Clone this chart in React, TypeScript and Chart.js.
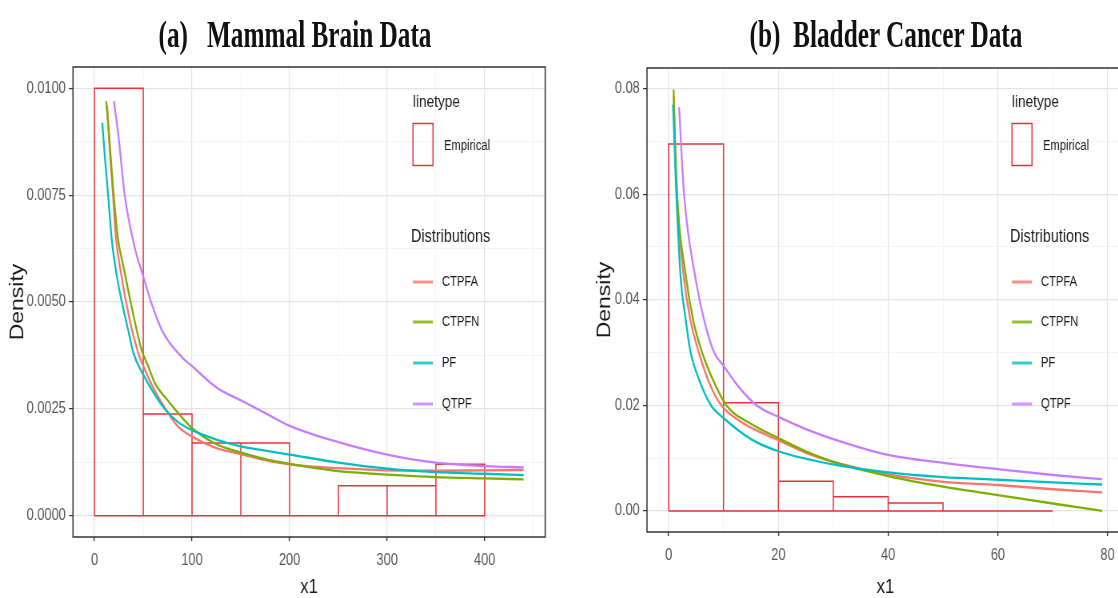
import React, { useEffect, useRef } from 'react';
import { Chart, registerables } from 'chart.js';

Chart.register(...registerables);

// ---------- shared ----------
const SERIES_NAMES = ['CTPFA', 'CTPFN', 'PF', 'QTPF'];
const SERIES_COLORS = ['#F8766D', '#7CAE00', '#00BFC4', '#C77CFF'];
const HIST_COLOR = '#E8323C';
const SANS = "'Liberation Sans', Arial, sans-serif";
// the panels are drawn wide and squeezed horizontally, like the reference image
const SQUEEZE = 0.8;

// ---------- (a) Mammal Brain Data ----------
const brainBinEdges = [0, 50, 100, 150, 200, 250, 300, 350, 400];
const brainBinDensity = [0.01, 0.00238, 0.0017, 0.0017, 0, 0.0007, 0.0007, 0.0012];

const brainCtpfaX = [13, 15, 19, 22, 27, 36, 45, 52, 60, 70, 85, 100, 125, 150, 175, 200, 250, 300, 350, 400, 440];
const brainCtpfaY = [0.0096, 0.0088, 0.0075, 0.0065, 0.0057, 0.0046, 0.0038, 0.0034, 0.003, 0.0026, 0.0021, 0.00185, 0.00158, 0.00144, 0.0013, 0.0012, 0.00111, 0.00106, 0.00105, 0.00106, 0.00107];

const brainCtpfnX = [12, 15, 19, 24, 30, 38, 48, 55, 62, 75, 84, 100, 125, 150, 175, 200, 250, 300, 350, 400, 440];
const brainCtpfnY = [0.0097, 0.0089, 0.0077, 0.0065, 0.0058, 0.0049, 0.0039, 0.0035, 0.0031, 0.0027, 0.00245, 0.00205, 0.00167, 0.00148, 0.00132, 0.00121, 0.00104, 0.00096, 0.0009, 0.00087, 0.00085];

const brainPfX = [8, 11, 14, 18, 23, 29, 35, 40, 50, 60, 72, 85, 100, 125, 150, 175, 200, 250, 300, 350, 400, 440];
const brainPfY = [0.0092, 0.0083, 0.0075, 0.0064, 0.0056, 0.0049, 0.0043, 0.0038, 0.0033, 0.0029, 0.0025, 0.0022, 0.002, 0.00178, 0.00162, 0.00152, 0.00143, 0.00124, 0.0011, 0.00102, 0.00098, 0.00095];

const brainQtpfX = [20, 25, 31, 41, 50, 58, 70, 90, 100, 125, 150, 175, 200, 250, 300, 350, 400, 440];
const brainQtpfY = [0.0097, 0.0088, 0.0075, 0.0063, 0.0056, 0.005, 0.0043, 0.0037, 0.0035, 0.003, 0.0027, 0.0024, 0.0021, 0.00172, 0.00143, 0.00124, 0.00116, 0.00113];

const brainXMajor = [0, 100, 200, 300, 400];
const brainXMinor = [50, 150, 250, 350, 450];
const brainYMajor = [0, 0.0025, 0.005, 0.0075, 0.01];
const brainYMinor = [0.00125, 0.00375, 0.00625, 0.00875];

// ---------- (b) Bladder Cancer Data ----------
const bladderBinEdges = [0, 10, 20, 30, 40, 50, 60, 70];
const bladderBinDensity = [0.0695, 0.0205, 0.0056, 0.0027, 0.0015, 0, 0];

const bladderCtpfaX = [0.9, 1.4, 2.8, 4, 5.5, 7.5, 9.6, 13, 18, 20, 25, 30, 40, 50, 60, 70, 79];
const bladderCtpfaY = [0.0785, 0.062, 0.044, 0.036, 0.03, 0.024, 0.02, 0.017, 0.0143, 0.0134, 0.011, 0.0093, 0.0069, 0.0055, 0.0049, 0.0041, 0.0035];

const bladderCtpfnX = [0.9, 1.4, 3.2, 4.5, 6.1, 8, 10.5, 15, 20, 25, 30, 40, 50, 60, 70, 79];
const bladderCtpfnY = [0.0798, 0.063, 0.044, 0.036, 0.03, 0.025, 0.02, 0.0165, 0.0138, 0.0113, 0.0093, 0.0066, 0.0046, 0.003, 0.0014, 0.0];

const bladderPfX = [0.8, 1.4, 2.2, 3, 4, 5.5, 7.7, 10, 15, 20, 30, 40, 50, 60, 70, 79];
const bladderPfY = [0.077, 0.06, 0.044, 0.037, 0.03, 0.025, 0.02, 0.0176, 0.0136, 0.0113, 0.0088, 0.0073, 0.0064, 0.0059, 0.0054, 0.005];

const bladderQtpfX = [1.9, 2.8, 4.9, 6.5, 8.3, 10, 13, 16, 20, 25, 30, 40, 50, 60, 70, 79];
const bladderQtpfY = [0.0765, 0.06, 0.044, 0.036, 0.03, 0.0275, 0.0232, 0.02, 0.0178, 0.0155, 0.0136, 0.0106, 0.0091, 0.0079, 0.0068, 0.006];

const bladderXMajor = [0, 20, 40, 60, 80];
const bladderXMinor = [10, 30, 50, 70];
const bladderYMajor = [0, 0.02, 0.04, 0.06, 0.08];
const bladderYMinor = [0.01, 0.03, 0.05, 0.07];

// ---------- helpers ----------
function pts(xs: number[], ys: number[]) {
  return xs.map((x, i) => ({ x, y: ys[i] }));
}

function histOutline(edges: number[], heights: number[]) {
  const out: { x: number; y: number }[] = [];
  heights.forEach((h, i) => {
    out.push({ x: edges[i], y: 0 }, { x: edges[i], y: h }, { x: edges[i + 1], y: h }, { x: edges[i + 1], y: 0 });
  });
  out.push({ x: edges[0], y: 0 });
  return out;
}

const near = (list: number[], v: number) => list.some((m) => Math.abs(m - v) < 1e-9);

type PanelProps = {
  left: number; // display px
  width: number; // display px
  padTop: number;
  padRight: number; // display px
  yWidth: number; // display px
  xHeight: number;
  densityX: number; // display px, centre of the y title
  legendOffset: number; // display px from plot left
  xMin: number;
  xMax: number;
  yMin: number;
  yMax: number;
  xMajor: number[];
  xMinor: number[];
  yMajor: number[];
  yMinor: number[];
  yDecimals: number;
  edges: number[];
  heights: number[];
  series: { x: number[]; y: number[] }[];
};

function Panel(p: PanelProps) {
  const ref = useRef<HTMLCanvasElement | null>(null);
  const S = SQUEEZE;
  const innerWidth = Math.round(p.width / S);

  useEffect(() => {
    if (!ref.current) return;

    const frame = {
      id: 'ggFrame',
      afterDraw(chart: any) {
        const { ctx, chartArea: a } = chart;
        ctx.save();
        ctx.strokeStyle = '#333333';
        ctx.lineWidth = 1.5;
        ctx.strokeRect(a.left, a.top, a.right - a.left, a.bottom - a.top);
        ctx.restore();
      },
    };

    const legend = {
      id: 'ggLegend',
      afterDraw(chart: any) {
        const { ctx, chartArea: a } = chart;
        const x0 = a.left + p.legendOffset / S;
        const u = 1 / S;
        ctx.save();
        ctx.textBaseline = 'middle';
        ctx.textAlign = 'left';
        ctx.fillStyle = '#1a1a1a';
        ctx.font = `17px ${SANS}`;
        ctx.fillText('linetype', x0, 102);
        ctx.strokeStyle = HIST_COLOR;
        ctx.lineWidth = 1.5;
        ctx.strokeRect(x0, 123.5, 20 * u, 42);
        ctx.font = `14px ${SANS}`;
        ctx.fillText('Empirical', x0 + 31 * u, 146);
        ctx.font = `18px ${SANS}`;
        ctx.fillText('Distributions', x0 - 2 * u, 237);
        const ys = [282, 322, 363, 404];
        SERIES_NAMES.forEach((name, i) => {
          ctx.globalAlpha = 0.8;
          ctx.strokeStyle = SERIES_COLORS[i];
          ctx.lineWidth = 3;
          ctx.beginPath();
          ctx.moveTo(x0, ys[i]);
          ctx.lineTo(x0 + 20 * u, ys[i]);
          ctx.stroke();
          ctx.globalAlpha = 1;
          ctx.fillStyle = '#1a1a1a';
          ctx.font = `14px ${SANS}`;
          ctx.fillText(name, x0 + 29 * u, ys[i]);
        });
        ctx.restore();
      },
    };

    const orders = [4, 3, 2, 1];
    const curveSets = p.series.map((s, i) => ({
      label: SERIES_NAMES[i],
      data: pts(s.x, s.y),
      showLine: true,
      borderColor: SERIES_COLORS[i],
      borderWidth: 2.3,
      pointRadius: 0,
      cubicInterpolationMode: 'monotone' as const,
      order: orders[i],
    }));

    const histSet = {
      label: 'Empirical',
      data: histOutline(p.edges, p.heights),
      showLine: true,
      borderColor: HIST_COLOR,
      borderWidth: 1.5,
      pointRadius: 0,
      tension: 0,
      order: 5,
    };

    const gridColor = (major: number[]) => (ctx: any) =>
      ctx.tick && near(major, ctx.tick.value) ? '#E4E4E4' : '#F1F1F1';
    const gridWidth = (major: number[]) => (ctx: any) => (ctx.tick && near(major, ctx.tick.value) ? 1.2 : 0.8);
    const tickColor = (major: number[]) => (ctx: any) =>
      ctx.tick && near(major, ctx.tick.value) ? '#333333' : 'rgba(0,0,0,0)';

    const chart = new Chart(ref.current, {
      type: 'scatter',
      data: { datasets: [...curveSets, histSet] as any },
      plugins: [frame, legend],
      options: {
        responsive: false,
        animation: false,
        events: [],
        layout: { padding: { top: p.padTop, right: p.padRight / S, left: 0, bottom: 0 } },
        plugins: { legend: { display: false }, tooltip: { enabled: false } },
        scales: {
          x: {
            type: 'linear',
            min: p.xMin,
            max: p.xMax,
            afterBuildTicks: (s: any) => {
              s.ticks = [...p.xMajor, ...p.xMinor].sort((a, b) => a - b).map((v) => ({ value: v }));
            },
            afterFit: (s: any) => {
              s.height = p.xHeight;
            },
            ticks: {
              autoSkip: false,
              maxRotation: 0,
              padding: 10,
              color: '#555555',
              font: { family: SANS, size: 16 },
              callback: (v: any) => (near(p.xMajor, Number(v)) ? String(v) : ''),
            },
            grid: {
              color: gridColor(p.xMajor),
              lineWidth: gridWidth(p.xMajor),
              tickColor: tickColor(p.xMajor),
              tickLength: 4,
              tickWidth: 1.4,
            },
            border: { display: false },
            title: {
              display: true,
              text: 'x1',
              color: '#1a1a1a',
              font: { family: SANS, size: 21, lineHeight: 1 },
              padding: { top: 0, bottom: 0 },
            },
          },
          y: {
            type: 'linear',
            min: p.yMin,
            max: p.yMax,
            afterBuildTicks: (s: any) => {
              s.ticks = [...p.yMajor, ...p.yMinor].sort((a, b) => a - b).map((v) => ({ value: v }));
            },
            afterFit: (s: any) => {
              s.width = p.yWidth / S;
            },
            ticks: {
              autoSkip: false,
              padding: 4,
              color: '#555555',
              font: { family: SANS, size: 16 },
              callback: (v: any) => (near(p.yMajor, Number(v)) ? Number(v).toFixed(p.yDecimals) : ''),
            },
            grid: {
              color: gridColor(p.yMajor),
              lineWidth: gridWidth(p.yMajor),
              tickColor: tickColor(p.yMajor),
              tickLength: 5,
              tickWidth: 1.2,
            },
            border: { display: false },
            title: {
              display: true,
              text: 'Density',
              color: '#1a1a1a',
              font: { family: SANS, size: 23 },
              padding: { top: p.densityX / S - 13.8, bottom: 0 },
            },
          },
        },
      } as any,
    });

    return () => chart.destroy();
  }, []);

  return (
    <canvas
      ref={ref}
      width={innerWidth}
      height={598}
      style={{
        position: 'absolute',
        left: p.left,
        top: 0,
        display: 'block',
        transform: `scaleX(${S})`,
        transformOrigin: 'left top',
      }}
    />
  );
}

function Title({ text, center }: { text: string; center: number }) {
  return (
    <div
      style={{
        position: 'absolute',
        left: center,
        top: 15,
        whiteSpace: 'pre',
        fontFamily: "'Liberation Serif', 'Times New Roman', serif",
        fontWeight: 'bold',
        fontSize: 38,
        lineHeight: '38px',
        color: '#111',
        transform: 'translateX(-50%) scaleX(0.665)',
      }}
    >
      {text}
    </div>
  );
}

export default function App() {
  return (
    <div
      style={{
        position: 'absolute',
        left: 0,
        top: 0,
        width: 1118,
        height: 598,
        overflow: 'hidden',
        background: '#ffffff',
      }}
    >
      <Panel
        left={0}
        width={559}
        padTop={67}
        padRight={14}
        yWidth={73}
        xHeight={61}
        densityX={18}
        legendOffset={340}
        xMin={-22}
        xMax={462}
        yMin={-0.0005}
        yMax={0.0105}
        xMajor={brainXMajor}
        xMinor={brainXMinor}
        yMajor={brainYMajor}
        yMinor={brainYMinor}
        yDecimals={4}
        edges={brainBinEdges}
        heights={brainBinDensity}
        series={[
          { x: brainCtpfaX, y: brainCtpfaY },
          { x: brainCtpfnX, y: brainCtpfnY },
          { x: brainPfX, y: brainPfY },
          { x: brainQtpfX, y: brainQtpfY },
        ]}
      />
      <Panel
        left={559}
        width={577}
        padTop={68}
        padRight={12}
        yWidth={88}
        xHeight={66}
        densityX={46}
        legendOffset={365}
        xMin={-3.95}
        xMax={82.95}
        yMin={-0.004}
        yMax={0.0839}
        xMajor={bladderXMajor}
        xMinor={bladderXMinor}
        yMajor={bladderYMajor}
        yMinor={bladderYMinor}
        yDecimals={2}
        edges={bladderBinEdges}
        heights={bladderBinDensity}
        series={[
          { x: bladderCtpfaX, y: bladderCtpfaY },
          { x: bladderCtpfnX, y: bladderCtpfnY },
          { x: bladderPfX, y: bladderPfY },
          { x: bladderQtpfX, y: bladderQtpfY },
        ]}
      />
      <Title text="(a)   Mammal Brain Data" center={295} />
      <Title text="(b)  Bladder Cancer Data" center={886} />
    </div>
  );
}
